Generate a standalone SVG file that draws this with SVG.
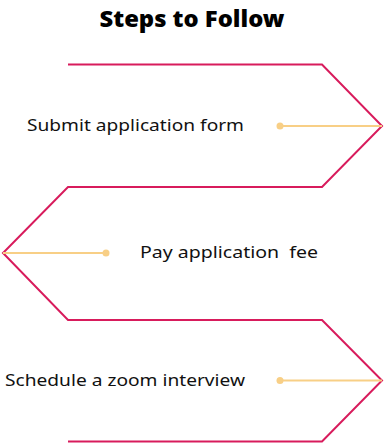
<svg xmlns="http://www.w3.org/2000/svg" width="384" height="444" viewBox="0 0 384 444">
<style>
.frame{fill:none;stroke:#d81b5c;stroke-width:2;stroke-linejoin:miter}
.lead{stroke:#f8cf86;stroke-width:2}
.dot{fill:#f8cf86}
.lbl{font-family:"Noto Sans","Liberation Sans",sans-serif;font-size:16px;fill:#111}
.title{font-family:"Noto Sans","Liberation Sans",sans-serif;font-size:23px;font-weight:900;fill:#000}
</style>
<rect width="384" height="444" fill="#fff"/>
<text class="title" x="192" y="26.5" text-anchor="middle" textLength="185" lengthAdjust="spacingAndGlyphs">Steps to Follow</text>
<g id="connectors">
<polyline class="frame" points="68,64.5 322,64.5 382,126 322,187 68,187 3,253 68,320 322,320 382,380.5 322,441.5 68,441.5"/>
</g>
<g id="step1">
<line class="lead" x1="280" y1="126" x2="382" y2="126"/>
<circle class="dot" cx="280" cy="126" r="3.5"/>
<text class="lbl" x="27" y="131" textLength="217" lengthAdjust="spacingAndGlyphs">Submit application form</text>
</g>
<g id="step2">
<line class="lead" x1="3" y1="253" x2="106" y2="253"/>
<circle class="dot" cx="106" cy="253" r="3.5"/>
<text class="lbl" x="140" y="258" textLength="178" lengthAdjust="spacingAndGlyphs" xml:space="preserve">Pay application  fee</text>
</g>
<g id="step3">
<line class="lead" x1="280" y1="380.5" x2="382" y2="380.5"/>
<circle class="dot" cx="280" cy="380.5" r="3.5"/>
<text class="lbl" x="5" y="385.5" textLength="240" lengthAdjust="spacingAndGlyphs">Schedule a zoom interview</text>
</g>
</svg>
